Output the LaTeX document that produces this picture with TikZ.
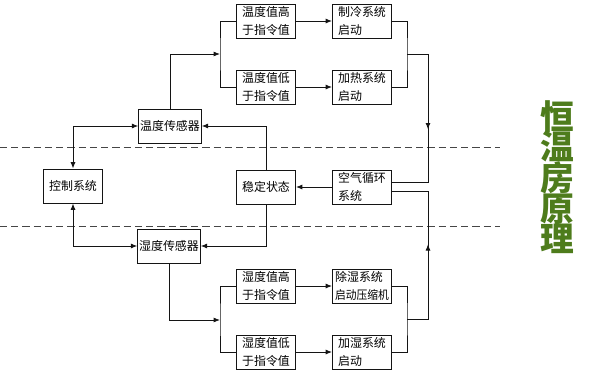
\documentclass[tikz,border=0pt]{standalone}
\usepackage{fontspec}
\setmainfont{Noto Sans CJK SC}
\usepackage{tikz}
\usetikzlibrary{arrows.meta, positioning, calc, decorations.markings}
\definecolor{mydark}{RGB}{20,20,20}
\definecolor{mygray}{RGB}{70,70,70}
\definecolor{mygreen}{RGB}{78,124,28}
\tikzset{
  block/.style={rectangle, draw=mydark, fill=white,
    minimum width=1.475cm, minimum height=0.85cm,
    inner xsep=1pt, inner ysep=1pt, align=left,
    font=\fontsize{8.5}{12.5}\selectfont, line width=0.6pt},
  arrow/.style={-{Latex[length=4.5pt,width=3.5pt]}, line width=0.6pt, color=mydark},
  dblarrow/.style={{Latex[length=4.5pt,width=3.5pt]}-{Latex[length=4.5pt,width=3.5pt]}, line width=0.6pt, color=mydark},
  line/.style={line width=0.6pt, color=mydark},
  midarrow/.style={line, postaction={decorate}, decoration={markings,
    mark=at position #1 with {\arrow{Latex[length=4.5pt,width=3.5pt]}}}},
  sepline/.style={dashed, dash pattern=on 5pt off 3pt, color=mygray, line width=0.5pt}
}

\begin{document}
\begin{tikzpicture}[x=0.025cm, y=-0.025cm]
  \useasboundingbox (0,0) rectangle (600,376);

  % Separators
  \draw[sepline] (0,147) -- (500,147);
  \draw[sepline] (0,226) -- (500,226);

  % Middle row
  \node[block] (ctrl) at (73,186) {控制系统};
  \node[block] (steady) at (266,187) {稳定状态};
  \node[block] (air) at (362,187) {空气循环\\系统};

  % Sensors
  \node[block] (tsen) at (170,126) {温度传感器};
  \node[block] (hsen) at (169,246) {湿度传感器};

  % Temperature branch
  \node[block] (thigh) at (266,21) {温度值高\\于指令值};
  \node[block] (tlow) at (266,87) {温度值低\\于指令值};
  \node[block] (cool) at (362,21) {制冷系统\\启动};
  \node[block] (heat) at (362,87) {加热系统\\启动};

  % Humidity branch
  \node[block] (hhigh) at (266,286) {湿度值高\\于指令值};
  \node[block] (hlow) at (266,352) {湿度值低\\于指令值};
  \node[block] (dry) at (362,286) {除湿系统\\\scalebox{0.9}[1]{启动压缩机}};
  \node[block] (wet) at (362,352) {加湿系统\\启动};

  % Title
  \node[font={\fontsize{24}{21.8}\selectfont\bfseries\lineskiplimit=-20pt},
    text=mygreen, align=center, inner sep=0pt] (title) at (557,177) {恒\\温\\房\\原\\理};

  % Junctions
  \coordinate (tj) at (220,54);
  \coordinate (tm) at (407,54);
  \coordinate (rt) at (428,54);
  \coordinate (hj) at (220,320);
  \coordinate (hm) at (407,319);
  \coordinate (rb) at (428,319);

  % Temperature loop
  \draw[arrow] (tsen.north) |- (tj);
  \draw[line] (thigh.west) -| (tj) |- (tlow.west);
  \draw[arrow] (thigh) -- (cool);
  \draw[arrow] (tlow) -- (heat);
  \draw[line] (cool.east) -| (tm) |- (heat.east);
  \draw[midarrow=0.52] (tm) -- (rt) |- ([yshift=0.12cm]air.east);

  % Humidity loop
  \draw[arrow] (hsen.south) |- (hj);
  \draw[line] (hhigh.west) -| (hj) |- (hlow.west);
  \draw[arrow] (hhigh) -- (dry);
  \draw[arrow] (hlow) -- (wet);
  \draw[line] (dry.east) -| (hm) |- (wet.east);
  \draw[midarrow=0.52] (hm) -- (rb) |- ([yshift=-0.12cm]air.east);

  % Feedback
  \draw[arrow] (air) -- (steady);
  \draw[arrow] (steady.north) |- (tsen.east);
  \draw[arrow] (steady.south) |- (hsen.east);
  \draw[dblarrow] (ctrl.north) |- (tsen.west);
  \draw[dblarrow] (ctrl.south) |- (hsen.west);
\end{tikzpicture}
\end{document}
